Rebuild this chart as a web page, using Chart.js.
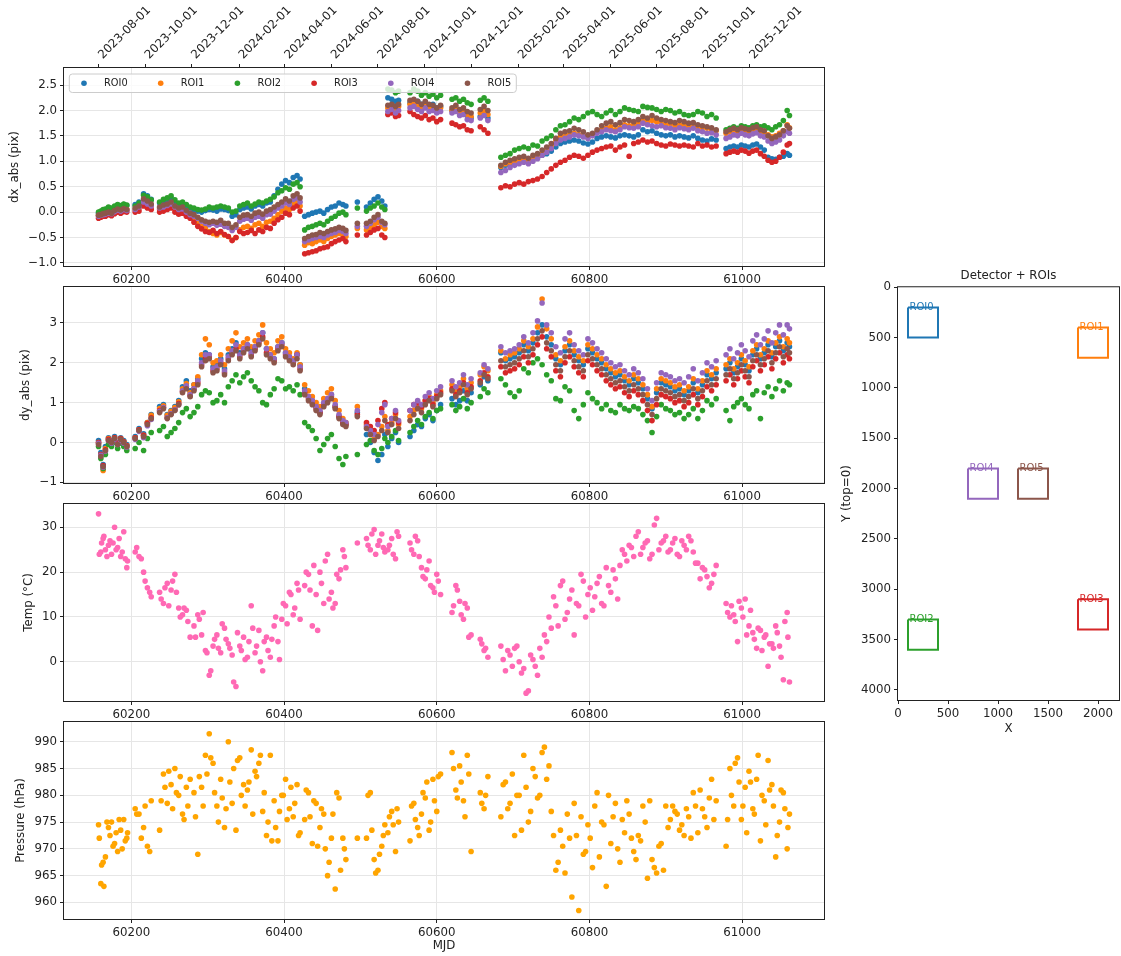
<!DOCTYPE html>
<html>
<head>
<meta charset="utf-8">
<script src="https://cdn.jsdelivr.net/npm/chart.js@4.4.1/dist/chart.umd.min.js"></script>
<style>
  html, body { margin: 0; padding: 0; background: #fff; }
  #wrap { position: relative; width: 1121px; height: 956px; overflow: hidden; }
  canvas { position: absolute; }
</style>
</head>
<body>
<div id="wrap">
  <canvas id="dxChart"></canvas>
  <canvas id="dyChart"></canvas>
  <canvas id="tempChart"></canvas>
  <canvas id="presChart"></canvas>
  <canvas id="detChart"></canvas>
</div>
<script>
// ---- data ----
const roiNames = ['ROI0', 'ROI1', 'ROI2', 'ROI3', 'ROI4', 'ROI5'];
const roiColors = ['#1f77b4', '#ff7f0e', '#2ca02c', '#d62728', '#9467bd', '#8c564b'];

const mjd = [
  60157, 60160, 60163, 60166, 60170, 60174, 60178, 60182, 60186, 60190, 60194,
  60205, 60210, 60216, 60221, 60226,
  60237, 60242, 60247, 60252, 60257, 60262, 60267, 60272, 60277,
  60282, 60287, 60292, 60297, 60302, 60307, 60312, 60317, 60322, 60327, 60332, 60337, 60342, 60347, 60352,
  60357, 60362, 60367, 60372, 60377, 60382, 60387, 60392, 60397, 60402, 60407, 60412, 60417, 60421,
  60427, 60432, 60437, 60442, 60447, 60452, 60457, 60462, 60467, 60472, 60477, 60481,
  60496,
  60508, 60513, 60518, 60523, 60528, 60532,
  60536, 60541, 60546, 60550, 60565, 60570, 60575, 60580, 60585, 60590, 60595, 60600, 60605,
  60620, 60625, 60630, 60635, 60640, 60645, 60657, 60662, 60667,
  60684, 60690, 60696, 60702, 60708, 60714, 60720, 60726, 60732, 60738, 60744, 60750, 60756, 60762, 60768, 60774,
  60780, 60786, 60792, 60798, 60804, 60810, 60816, 60822, 60828, 60834, 60840, 60846, 60852, 60858, 60864, 60870,
  60876, 60882, 60888, 60894, 60900, 60906, 60912, 60918, 60924, 60930, 60936, 60942, 60948, 60954, 60960, 60966,
  60979, 60984, 60989, 60994, 60999, 61004, 61009, 61014, 61019, 61024, 61029, 61034, 61039, 61044, 61049, 61054, 61059, 61062
];

const dx0 = [
  -0.02, 0.00, 0.03, 0.05, 0.08, 0.06, 0.10, 0.14, 0.12, 0.15, 0.13,
  0.15, 0.20, 0.36, 0.32, 0.25,
  0.18, 0.22, 0.25, 0.28, 0.20, 0.16, 0.18, 0.12, 0.08,
  0.03, 0.02, 0.00, 0.03, 0.05, 0.04, 0.02, 0.06, 0.05, 0.03, -0.08, -0.05, 0.05, 0.08, 0.10,
  0.06, 0.12, 0.15, 0.12, 0.18, 0.20, 0.32, 0.45, 0.55, 0.62, 0.58, 0.68, 0.72, 0.65,
  -0.08, -0.05, -0.02, 0.00, 0.02, -0.02, 0.05, 0.10, 0.12, 0.18, 0.15, 0.12,
  0.20,
  0.10, 0.18, 0.25, 0.30, 0.22, 0.12,
  2.25, 2.22, 2.18, 2.20, 2.15, 2.20, 2.18, 2.12, 2.15, 2.10, 2.12, 2.05, 2.08,
  2.00, 2.05, 1.98, 2.02, 1.90, 1.85, 1.88, 1.92, 1.85,
  0.88, 0.92, 0.95, 0.98, 1.00, 1.02, 1.00, 1.05, 1.08, 1.12, 1.15, 1.20, 1.28, 1.35, 1.38, 1.40,
  1.42, 1.40, 1.36, 1.34, 1.38, 1.45, 1.48, 1.50, 1.48, 1.46, 1.50, 1.52, 1.50, 1.48, 1.52, 1.62,
  1.58, 1.60, 1.55, 1.52, 1.50, 1.52, 1.48, 1.50, 1.48, 1.46, 1.50, 1.45, 1.42, 1.40, 1.44, 1.42,
  1.25, 1.28, 1.30, 1.28, 1.32, 1.30, 1.28, 1.32, 1.34, 1.28, 1.22, 1.08, 1.05, 1.04, 1.08, 1.10, 1.15, 1.12
];
const dx1 = [
  -0.06, -0.05, -0.04, -0.02, 0.00, -0.02, 0.02, 0.05, 0.04, 0.06, 0.05,
  0.05, 0.08, 0.22, 0.18, 0.12,
  0.05, 0.08, 0.10, 0.14, 0.06, 0.02, 0.04, -0.04, -0.10,
  -0.15, -0.22, -0.28, -0.32, -0.38, -0.42, -0.45, -0.40, -0.45, -0.48, -0.55, -0.50, -0.35, -0.30, -0.28,
  -0.32, -0.25, -0.22, -0.28, -0.20, -0.18, -0.12, -0.05, 0.02, 0.08, 0.05, 0.15, 0.20, 0.12,
  -0.65, -0.60, -0.62, -0.58, -0.55, -0.58, -0.52, -0.48, -0.45, -0.42, -0.45, -0.48,
  -0.32,
  -0.35, -0.30, -0.25, -0.20, -0.28, -0.32,
  2.05, 2.10, 2.02, 2.08, 2.12, 2.15, 2.10, 2.05, 2.12, 2.08, 2.02, 1.98, 2.05,
  2.00, 2.05, 1.95, 2.00, 1.92, 1.88, 1.95, 2.00, 1.92,
  0.90, 0.95, 0.98, 1.00, 1.02, 1.05, 1.02, 1.08, 1.10, 1.15, 1.22, 1.30, 1.40, 1.48, 1.50, 1.52,
  1.55, 1.52, 1.50, 1.48, 1.52, 1.58, 1.62, 1.65, 1.68, 1.62, 1.66, 1.72, 1.70, 1.72, 1.75, 1.80,
  1.78, 1.80, 1.78, 1.75, 1.72, 1.74, 1.70, 1.72, 1.70, 1.68, 1.70, 1.68, 1.66, 1.65, 1.62, 1.60,
  1.55, 1.58, 1.60, 1.58, 1.62, 1.60, 1.58, 1.62, 1.64, 1.58, 1.56, 1.52, 1.48, 1.50, 1.55, 1.60, 1.72, 1.66
];
const dx2 = [
  0.00, 0.02, 0.05, 0.06, 0.10, 0.08, 0.12, 0.15, 0.13, 0.16, 0.14,
  0.12, 0.18, 0.33, 0.30, 0.24,
  0.20, 0.25, 0.28, 0.32, 0.24, 0.18, 0.20, 0.15, 0.10,
  0.08, 0.05, 0.04, 0.06, 0.10, 0.08, 0.10, 0.12, 0.10, 0.08, 0.00, 0.02, 0.12, 0.15, 0.18,
  0.12, 0.16, 0.20, 0.18, 0.22, 0.25, 0.30, 0.38, 0.42, 0.48, 0.45, 0.55, 0.58, 0.50,
  -0.35, -0.30, -0.28, -0.25, -0.22, -0.25, -0.18, -0.12, -0.08, -0.02, 0.00, -0.05,
  0.08,
  0.02, 0.08, 0.12, 0.18, 0.10, 0.05,
  2.42, 2.40, 2.35, 2.38, 2.35, 2.42, 2.38, 2.30, 2.35, 2.28, 2.32, 2.25, 2.30,
  2.22, 2.25, 2.18, 2.22, 2.15, 2.12, 2.20, 2.25, 2.18,
  1.08, 1.12, 1.15, 1.22, 1.25, 1.28, 1.25, 1.32, 1.30, 1.40, 1.45, 1.50, 1.62, 1.70, 1.72, 1.78,
  1.85, 1.82, 1.88, 1.95, 1.98, 1.92, 1.88, 1.95, 2.00, 1.92, 1.98, 2.05, 2.02, 2.00, 1.98, 2.08,
  2.06, 2.05, 2.02, 1.98, 2.02, 2.00, 1.95, 1.98, 1.92, 1.90, 1.92, 1.98, 1.95, 1.88, 1.92, 1.85,
  1.62, 1.65, 1.68, 1.65, 1.70, 1.68, 1.66, 1.70, 1.72, 1.68, 1.70, 1.66, 1.62, 1.68, 1.72, 1.80, 2.00, 1.90
];
const dx3 = [
  -0.12, -0.10, -0.08, -0.08, -0.05, -0.07, -0.03, 0.00, -0.02, 0.01, 0.00,
  0.00, 0.02, 0.12, 0.08, 0.05,
  0.00, 0.02, 0.05, 0.08, 0.00, -0.04, -0.02, -0.08, -0.12,
  -0.20, -0.28, -0.33, -0.38, -0.40, -0.36, -0.42, -0.38, -0.44, -0.48, -0.56, -0.50, -0.38, -0.42, -0.40,
  -0.36, -0.42, -0.35, -0.38, -0.30, -0.32, -0.22, -0.15, -0.10, -0.02, -0.05, 0.08, 0.12, 0.02,
  -0.82, -0.80, -0.78, -0.76, -0.72, -0.70, -0.68, -0.62, -0.58, -0.55, -0.52, -0.58,
  -0.45,
  -0.45, -0.40, -0.35, -0.32, -0.45, -0.50,
  1.92, 1.95, 1.88, 1.90, 1.98, 1.92, 1.88, 1.85, 1.90, 1.82, 1.85, 1.78, 1.82,
  1.75, 1.72, 1.68, 1.70, 1.62, 1.60, 1.68, 1.62, 1.55,
  0.48, 0.52, 0.50, 0.55, 0.58, 0.55, 0.60, 0.62, 0.65, 0.70, 0.78, 0.85, 0.92, 0.98, 1.02, 1.08,
  1.12, 1.10, 1.06, 1.12, 1.18, 1.22, 1.25, 1.28, 1.30, 1.22, 1.28, 1.32, 1.10, 1.35, 1.38, 1.42,
  1.38, 1.40, 1.35, 1.32, 1.30, 1.34, 1.32, 1.30, 1.32, 1.30, 1.28, 1.35, 1.30, 1.32, 1.28, 1.30,
  1.15, 1.18, 1.20, 1.18, 1.22, 1.20, 1.16, 1.20, 1.22, 1.15, 1.10, 1.02, 0.98, 1.00, 1.08, 1.18, 1.32, 1.35
];
const dx4 = [
  -0.08, -0.06, -0.05, -0.04, -0.02, -0.03, 0.01, 0.04, 0.02, 0.05, 0.03,
  0.05, 0.10, 0.20, 0.16, 0.12,
  0.08, 0.10, 0.13, 0.16, 0.10, 0.05, 0.06, 0.00, -0.05,
  -0.08, -0.12, -0.18, -0.22, -0.25, -0.22, -0.26, -0.24, -0.28, -0.30, -0.36, -0.30, -0.18, -0.14, -0.12,
  -0.16, -0.10, -0.08, -0.12, -0.05, -0.04, 0.02, 0.08, 0.12, 0.18, 0.15, 0.25, 0.28, 0.20,
  -0.58, -0.55, -0.52, -0.50, -0.48, -0.50, -0.45, -0.42, -0.40, -0.36, -0.38, -0.42,
  -0.28,
  -0.28, -0.22, -0.15, -0.10, -0.20, -0.25,
  1.98, 2.02, 1.95, 2.00, 2.05, 2.08, 2.02, 1.98, 2.05, 1.98, 2.00, 1.95, 1.98,
  1.95, 1.98, 1.90, 1.92, 1.82, 1.80, 1.85, 1.90, 1.80,
  0.78, 0.82, 0.88, 0.92, 0.95, 0.98, 0.95, 1.00, 1.05, 1.12, 1.18, 1.25, 1.35, 1.42, 1.45, 1.48,
  1.52, 1.50, 1.48, 1.45, 1.50, 1.55, 1.58, 1.62, 1.60, 1.58, 1.62, 1.68, 1.66, 1.65, 1.68, 1.75,
  1.72, 1.70, 1.68, 1.70, 1.66, 1.65, 1.62, 1.66, 1.64, 1.62, 1.65, 1.60, 1.58, 1.55, 1.56, 1.52,
  1.45, 1.48, 1.52, 1.50, 1.55, 1.52, 1.50, 1.54, 1.56, 1.50, 1.48, 1.40, 1.35, 1.38, 1.42, 1.50, 1.58, 1.55
];
const dx5 = [
  -0.06, -0.05, -0.03, -0.02, 0.00, -0.02, 0.03, 0.06, 0.04, 0.07, 0.05,
  0.08, 0.12, 0.26, 0.22, 0.16,
  0.10, 0.14, 0.16, 0.20, 0.12, 0.08, 0.10, 0.03, -0.02,
  -0.05, -0.10, -0.15, -0.18, -0.20, -0.18, -0.20, -0.16, -0.22, -0.22, -0.30, -0.25, -0.10, -0.06, -0.05,
  -0.08, -0.02, 0.00, -0.04, 0.02, 0.05, 0.10, 0.15, 0.20, 0.26, 0.22, 0.32, 0.36, 0.28,
  -0.52, -0.48, -0.45, -0.44, -0.40, -0.42, -0.38, -0.35, -0.33, -0.30, -0.32, -0.36,
  -0.22,
  -0.22, -0.18, -0.10, -0.05, -0.18, -0.22,
  2.10, 2.12, 2.08, 2.12, 2.20, 2.22, 2.18, 2.12, 2.18, 2.12, 2.10, 2.05, 2.10,
  2.05, 2.10, 2.02, 2.05, 1.98, 1.95, 2.02, 2.08, 2.00,
  0.92, 0.98, 1.02, 1.05, 1.08, 1.10, 1.06, 1.12, 1.15, 1.22, 1.28, 1.35, 1.45, 1.55, 1.58, 1.60,
  1.65, 1.62, 1.58, 1.52, 1.55, 1.62, 1.70, 1.75, 1.78, 1.72, 1.76, 1.82, 1.80, 1.78, 1.82, 1.88,
  1.85, 1.90, 1.85, 1.82, 1.80, 1.78, 1.76, 1.80, 1.78, 1.75, 1.76, 1.72, 1.70, 1.68, 1.66, 1.62,
  1.58, 1.62, 1.65, 1.62, 1.66, 1.64, 1.62, 1.66, 1.68, 1.62, 1.60, 1.50, 1.45, 1.48, 1.52, 1.60, 1.70, 1.65
];

const dy0 = [
  0.05, -0.25, -0.55, -0.10, 0.12, 0.05, 0.15, 0.00, 0.12, 0.05, -0.05,
  0.15, 0.35, 0.22, 0.50, 0.70,
  0.90, 0.95, 0.70, 0.80, 0.90, 1.05, 1.40, 1.55, 1.30,
  1.45, 1.60, 2.10, 2.25, 2.20, 1.90, 1.95, 2.10, 1.85, 2.20, 2.35, 2.50, 2.25, 2.35, 2.45,
  2.30, 2.40, 2.55, 2.75, 2.35, 2.20, 2.10, 2.40, 2.50, 2.25, 2.15, 2.05, 2.20, 1.95,
  1.35, 1.15, 1.05, 0.90, 0.75, 0.95, 1.05, 1.20, 0.90, 0.65, 0.50, 0.45,
  0.75,
  0.20, 0.00, -0.25, -0.45, -0.30, 0.20,
  -0.10, 0.10, 0.25, 0.00, 0.15, 0.30, 0.45, 0.40, 0.60, 0.70, 0.55, 0.80, 0.95,
  1.10, 0.95, 1.05, 1.30, 1.05, 1.25, 1.45, 1.65, 1.55,
  2.25, 2.05, 2.10, 2.15, 2.25, 2.45, 2.30, 2.50, 2.75, 2.95, 2.65, 2.45, 2.10, 1.95, 2.30, 2.45,
  2.20, 2.05, 1.95, 2.35, 2.25, 2.10, 2.00, 1.85, 1.75, 1.65, 1.70, 1.55, 1.45, 1.60, 1.50, 1.35,
  1.10, 0.85, 1.25, 1.50, 1.45, 1.40, 1.30, 1.35, 1.20, 1.30, 1.50, 1.25, 1.45, 1.70, 1.60, 1.75,
  1.85, 2.00, 1.75, 1.90, 2.10, 1.95, 1.80, 2.20, 2.35, 2.10, 2.25, 2.45, 2.15, 2.40, 2.55, 2.30, 2.50, 2.40
];
const dy1 = [
  0.00, -0.30, -0.70, -0.15, 0.10, 0.02, 0.12, -0.02, 0.10, 0.02, -0.08,
  0.12, 0.32, 0.18, 0.50, 0.68,
  0.85, 0.92, 0.68, 0.78, 0.88, 1.02, 1.35, 1.48, 1.25,
  1.45, 1.65, 2.20, 2.60, 2.45, 2.00, 2.05, 2.20, 1.95, 2.35, 2.55, 2.75, 2.40, 2.50, 2.60,
  2.40, 2.55, 2.70, 2.95, 2.50, 2.35, 2.25, 2.55, 2.65, 2.35, 2.25, 2.10, 2.25, 1.95,
  1.45, 1.30, 1.15, 1.00, 0.90, 1.10, 1.25, 1.35, 1.05, 0.80, 0.60, 0.50,
  0.90,
  0.45, 0.30, 0.10, 0.20, 0.40, 0.65,
  0.30, 0.50, 0.70, 0.45, 0.65, 0.80, 0.95, 0.85, 1.05, 1.15, 1.00, 1.20, 1.30,
  1.45, 1.30, 1.40, 1.60, 1.35, 1.50, 1.70, 1.90, 1.80,
  2.30, 2.10, 2.20, 2.25, 2.35, 2.55, 2.40, 2.60, 2.90, 3.60, 2.85, 2.60, 2.20, 2.05, 2.40, 2.55,
  2.30, 2.15, 2.05, 2.45, 2.35, 2.20, 2.10, 1.95, 1.85, 1.75, 1.80, 1.65, 1.55, 1.70, 1.60, 1.45,
  1.20, 0.90, 1.35, 1.60, 1.55, 1.50, 1.40, 1.45, 1.30, 1.40, 1.60, 1.35, 1.55, 1.80, 1.70, 1.85,
  1.95, 2.10, 1.85, 2.00, 2.20, 2.05, 1.90, 2.30, 2.45, 2.20, 2.35, 2.55, 2.25, 2.50, 2.65, 2.40, 2.60, 2.50
];
const dy2 = [
  -0.10, -0.40, -0.65, -0.30, -0.05, -0.10, 0.00, -0.15, -0.02, -0.10, -0.20,
  -0.15, 0.00, -0.20, 0.10, 0.25,
  0.30, 0.40, 0.15, 0.25, 0.35, 0.50, 0.75, 0.85, 0.65,
  0.75, 0.90, 1.20, 1.30, 1.25, 1.00, 1.05, 1.20, 1.00, 1.40, 1.55, 1.70, 1.50, 1.65, 1.75,
  1.55, 1.40, 1.30, 1.00, 0.95, 1.20, 1.35, 1.60, 1.55, 1.35, 1.40, 1.30, 1.45, 1.20,
  0.50, 0.40, 0.30, 0.10, -0.20, -0.05, 0.10, 0.20, -0.10, -0.40, -0.55, -0.35,
  -0.30,
  -0.05, 0.05, -0.20, -0.30, -0.15, 0.10,
  0.00, 0.15, 0.30, 0.05, 0.25, 0.40, 0.55, 0.45, 0.65, 0.75, 0.60, 0.80, 0.85,
  0.95, 0.80, 0.90, 1.10, 0.85, 1.00, 1.15, 1.35, 1.25,
  1.60, 1.45, 1.25, 1.15, 1.30, 1.85, 1.75, 2.00, 2.10, 1.95, 1.70, 1.55, 1.10, 1.05, 1.40, 1.30,
  0.80, 0.60, 0.95, 1.25, 1.10, 1.00, 0.85, 0.95, 0.80, 0.75, 0.95, 0.85, 0.80, 0.90, 0.85, 0.70,
  0.55, 0.25, 0.65, 0.95, 0.85, 0.80, 0.70, 0.75, 0.60, 0.70, 0.85, 0.60, 0.80, 1.05, 0.95, 1.10,
  0.80, 0.55, 0.90, 1.00, 1.10, 0.95, 0.85, 1.20, 1.30, 0.60, 1.25, 1.40, 1.15, 1.35, 1.55, 1.30, 1.50, 1.45
];
const dy3 = [
  0.00, -0.30, -0.58, -0.18, 0.08, 0.02, 0.12, -0.02, 0.10, 0.02, -0.08,
  0.12, 0.32, 0.18, 0.48, 0.62,
  0.80, 0.88, 0.62, 0.72, 0.82, 0.98, 1.28, 1.40, 1.18,
  1.35, 1.50, 1.95, 2.10, 2.15, 1.80, 1.85, 2.00, 1.75, 2.10, 2.25, 2.35, 2.15, 2.30, 2.40,
  2.20, 2.35, 2.50, 2.65, 2.25, 2.15, 2.05, 2.35, 2.45, 2.20, 2.10, 2.00, 2.20, 1.85,
  1.25, 1.10, 1.00, 0.85, 0.75, 0.95, 1.05, 1.15, 0.90, 0.65, 0.50, 0.45,
  0.70,
  0.50, 0.40, 0.30, 0.55, 0.85, 1.00,
  0.45, 0.60, 0.75, 0.50, 0.80, 0.95, 1.00, 0.90, 1.05, 1.10, 0.95, 1.15, 1.25,
  1.35, 1.20, 1.30, 1.50, 1.25, 1.40, 1.55, 1.75, 1.65,
  1.90, 1.75, 1.80, 1.85, 1.95, 2.15, 2.00, 2.20, 2.45, 2.65, 2.35, 2.15, 1.80, 1.65, 2.00, 2.15,
  1.90, 1.75, 1.65, 2.05, 1.95, 1.80, 1.70, 1.55, 1.45, 1.35, 1.40, 1.25, 1.15, 1.30, 1.20, 1.05,
  0.80, 0.55, 0.95, 1.20, 1.15, 1.10, 1.00, 1.05, 0.90, 1.00, 1.20, 0.95, 1.15, 1.40, 1.30, 1.45,
  1.55, 1.70, 1.45, 1.60, 1.80, 1.65, 1.50, 1.90, 2.05, 1.80, 1.95, 2.15, 1.85, 2.10, 2.25, 2.00, 2.20, 2.10
];
const dy4 = [
  -0.02, -0.32, -0.62, -0.22, 0.05, -0.02, 0.08, -0.05, 0.05, -0.02, -0.12,
  0.08, 0.28, 0.12, 0.42, 0.58,
  0.78, 0.88, 0.62, 0.72, 0.82, 0.95, 1.30, 1.42, 1.20,
  1.35, 1.55, 2.00, 2.20, 2.20, 1.85, 1.90, 2.05, 1.80, 2.15, 2.30, 2.45, 2.20, 2.35, 2.45,
  2.25, 2.40, 2.55, 2.75, 2.35, 2.20, 2.10, 2.40, 2.50, 2.25, 2.15, 2.05, 2.20, 1.90,
  1.30, 1.15, 1.05, 0.90, 0.80, 1.00, 1.10, 1.20, 0.95, 0.70, 0.55, 0.50,
  0.80,
  0.40, 0.30, 0.20, 0.45, 0.75, 0.95,
  0.40, 0.60, 0.80, 0.55, 0.80, 0.95, 1.05, 0.95, 1.15, 1.25, 1.10, 1.30, 1.40,
  1.55, 1.40, 1.50, 1.70, 1.45, 1.60, 1.75, 1.95, 1.85,
  2.40, 2.25, 2.30, 2.35, 2.45, 2.65, 2.50, 2.75, 3.05, 3.50, 2.95, 2.75, 2.40, 2.25, 2.60, 2.75,
  2.45, 2.30, 2.20, 2.60, 2.50, 2.35, 2.25, 2.10, 2.00, 1.90, 1.95, 1.80, 1.70, 1.85, 1.75, 1.60,
  1.35, 1.05, 1.50, 1.75, 1.70, 1.65, 1.55, 1.60, 1.50, 1.65, 1.85, 1.55, 1.75, 2.00, 1.90, 2.05,
  2.20, 2.35, 2.10, 2.25, 2.45, 2.30, 2.15, 2.55, 2.70, 2.45, 2.60, 2.80, 2.50, 2.75, 2.95, 2.70, 2.95, 2.85
];
const dy5 = [
  -0.05, -0.35, -0.60, -0.20, 0.05, 0.00, 0.10, -0.05, 0.08, 0.00, -0.10,
  0.10, 0.30, 0.15, 0.45, 0.60,
  0.75, 0.85, 0.60, 0.70, 0.80, 0.95, 1.25, 1.35, 1.15,
  1.30, 1.45, 1.90, 2.05, 2.10, 1.75, 1.80, 1.95, 1.70, 2.05, 2.20, 2.30, 2.10, 2.25, 2.35,
  2.15, 2.30, 2.45, 2.60, 2.20, 2.10, 2.00, 2.30, 2.40, 2.15, 2.05, 1.95, 2.10, 1.80,
  1.20, 1.05, 0.95, 0.80, 0.70, 0.90, 1.00, 1.10, 0.85, 0.60, 0.45, 0.40,
  0.65,
  0.35, 0.20, 0.05, 0.15, 0.30, 0.55,
  0.25, 0.45, 0.60, 0.35, 0.55, 0.70, 0.85, 0.75, 0.95, 1.05, 0.90, 1.10, 1.20,
  1.30, 1.15, 1.25, 1.45, 1.20, 1.35, 1.50, 1.70, 1.60,
  2.05, 1.90, 1.95, 2.00, 2.10, 2.30, 2.15, 2.35, 2.60, 2.80, 2.50, 2.30, 1.95, 1.80, 2.15, 2.30,
  2.05, 1.90, 1.80, 2.20, 2.10, 1.95, 1.85, 1.70, 1.60, 1.50, 1.55, 1.40, 1.30, 1.45, 1.35, 1.20,
  0.95, 0.70, 1.10, 1.35, 1.30, 1.25, 1.15, 1.20, 1.05, 1.15, 1.35, 1.10, 1.30, 1.55, 1.45, 1.60,
  1.70, 1.85, 1.60, 1.75, 1.95, 1.80, 1.65, 2.05, 2.20, 1.95, 2.10, 2.30, 2.00, 2.25, 2.40, 2.15, 2.35, 2.25
];

const temp = [
  33.0, 24.5, 27.5, 25.0, 26.0, 24.0, 30.0, 25.5, 23.5, 29.0, 21.0,
  24.5, 23.5, 20.0, 16.5, 14.5,
  15.5, 13.0, 17.5, 16.0, 19.5, 12.0, 10.5, 11.5, 5.5,
  8.0, 10.5, 6.0, 2.5, -3.0, 3.5, 6.0, 2.0, 7.5, 4.0, 1.5, -5.5, 3.5, 5.5, 1.0,
  12.5, 2.0, 7.0, -2.0, 5.5, 1.0, 8.0, 4.5, 9.5, 12.5, 15.5, 10.5, 17.5, 9.5,
  17.0, 19.5, 8.0, 15.0, 20.0, 13.0, 24.0, 15.5, 13.0, 18.5, 25.0, 21.0,
  26.5,
  27.5, 25.0, 29.5, 26.0, 28.5, 24.5,
  25.0, 27.5, 23.0, 28.0, 26.5, 24.0, 27.0, 21.0, 18.5, 22.5, 16.5, 19.5, 15.0,
  11.0, 17.0, 13.5, 9.5, 12.0, 6.0, 5.0, 2.5, 1.0,
  3.5, -2.0, 1.5, 3.0, 0.0, -1.5, -6.5, 0.5, -3.0, 1.0, 4.5, 7.5, 12.5, 17.0, 9.5, 14.0,
  6.0, 12.5, 18.0, 15.0, 11.5, 17.5, 13.0, 21.0, 15.5, 18.5, 21.5, 24.0, 26.0, 23.5, 29.0, 25.5,
  27.0, 24.0, 32.0, 26.5, 28.0, 25.0, 27.5, 23.5, 26.0, 28.0, 24.5, 22.0, 21.0, 19.0, 17.5, 21.5,
  13.0, 10.0, 10.5, 4.5, 12.0, 14.0, 8.0, 6.5, 3.0, 7.0, 5.5, -1.0, 4.0, 8.0, 3.5, -4.0, 11.0, -4.5
];

const pressure = [
  974.5, 963.5, 967.5, 968.5, 974.0, 975.0, 971.0, 969.5, 973.5, 975.5, 972.0,
  977.5, 976.5, 974.0, 970.5, 979.0,
  973.5, 984.0, 978.5, 982.0, 985.0, 980.0, 976.5, 981.5, 983.0,
  980.5, 969.0, 981.5, 987.5, 991.5, 986.0, 978.0, 983.0, 974.0, 990.0, 978.5, 973.5, 987.0, 982.0, 981.0,
  988.5, 984.5, 986.0, 977.0, 972.5, 987.5, 979.0, 971.5, 980.0, 983.0, 977.5, 976.0, 982.0, 973.0,
  975.5, 980.5, 971.0, 978.5, 974.0, 976.5, 965.0, 972.0, 962.5, 979.5, 972.0, 968.0,
  972.0,
  972.0, 980.5, 968.0, 966.0, 970.5, 974.5,
  973.0, 977.0, 969.5, 975.0, 971.5, 978.5, 974.0, 976.5, 979.5, 973.5, 983.0, 977.0, 984.0,
  988.0, 981.0, 985.5, 979.0, 987.5, 969.5, 980.5, 977.5, 983.5,
  976.0, 982.5, 978.5, 972.5, 980.0, 987.5, 975.0, 985.0, 979.5, 988.0, 983.0, 977.0, 966.0, 973.5, 965.5, 972.0,
  978.5, 958.5, 969.0, 974.5, 966.5, 980.5, 975.0, 963.0, 971.0, 978.5, 967.5, 973.0, 976.5, 969.5, 972.5, 978.0,
  964.5, 968.0, 965.5, 971.0, 978.0, 975.5, 977.0, 973.5, 972.5, 976.0, 980.5, 973.0, 977.5, 974.0, 983.0, 979.0,
  970.5, 985.0, 978.0, 987.0, 975.5, 981.5, 984.5, 977.5, 983.0, 971.5, 979.0, 986.5, 982.0, 968.5, 975.0, 980.5, 970.0, 976.5
];

// second daily reading of the weather station
const mjdB = [
  60158, 60161, 60164, 60168, 60172, 60176, 60180, 60184, 60188, 60192, 60195,
  60207, 60213, 60218, 60224,
  60239, 60244, 60249, 60254, 60259, 60264, 60269, 60274,
  60284, 60289, 60294, 60299, 60304, 60309, 60314, 60319, 60324, 60329, 60334, 60339, 60344, 60349,
  60354, 60359, 60364, 60369, 60374, 60379, 60384, 60389, 60394, 60399, 60404, 60409, 60414, 60419,
  60429, 60434, 60439, 60444, 60449, 60454, 60459, 60464, 60469, 60474, 60479,
  60510, 60515, 60520, 60525, 60530,
  60538, 60543, 60548, 60567, 60572, 60577, 60582, 60587, 60592, 60597, 60602,
  60622, 60627, 60632, 60637, 60642, 60659, 60664,
  60687, 60693, 60699, 60705, 60711, 60717, 60723, 60729, 60735, 60741, 60747, 60753, 60759, 60765, 60771, 60777,
  60783, 60789, 60795, 60801, 60807, 60813, 60819, 60825, 60831, 60837, 60843, 60849, 60855, 60861, 60867, 60873,
  60879, 60885, 60891, 60897, 60903, 60909, 60915, 60921, 60927, 60933, 60939, 60945, 60951, 60957, 60963,
  60981, 60986, 60991, 60996, 61001, 61006, 61011, 61016, 61021, 61026, 61031, 61036, 61041, 61046, 61051, 61056, 61060
];
const tempB = [
  24.0, 26.5, 28.0, 23.5, 27.0, 26.5, 25.0, 27.5, 24.5, 23.0, 22.5,
  25.5, 23.0, 18.0, 15.5,
  14.0, 16.5, 12.5, 18.0, 15.5, 10.0, 12.0, 9.0,
  5.5, 9.5, 11.0, 2.0, -2.0, 5.0, 3.0, 8.5, 5.0, 3.0, -4.5, 6.5, 2.5, 0.5,
  4.5, 7.5, 3.5, 0.0, 4.5, 2.5, 5.0, 10.0, 0.5, 13.0, 8.5, 15.0, 12.0, 16.0,
  20.0, 16.0, 21.5, 7.0, 17.5, 22.5, 14.0, 12.0, 19.5, 20.5, 23.5,
  26.0, 28.5, 24.0, 27.0, 25.5,
  26.0, 24.0, 29.0, 25.0, 28.0, 23.5, 19.0, 20.5, 17.0, 15.5, 18.0,
  12.5, 16.0, 10.5, 13.0, 5.5, 4.0, 3.0,
  0.5, 2.5, -1.0, 3.5, -2.5, -7.0, 1.5, -1.0, 3.0, 6.0, 10.0, 14.5, 8.0, 18.0, 11.0, 16.0,
  13.0, 19.5, 10.0, 16.5, 14.5, 19.0, 12.5, 17.0, 20.5, 14.0, 25.0, 22.5, 25.5, 28.0, 24.0, 26.5,
  23.0, 30.5, 25.0, 27.0, 24.5, 26.5, 24.0, 27.0, 25.0, 27.0, 22.0, 18.5, 20.5, 16.5, 19.5,
  11.0, 12.5, 9.0, 13.5, 10.0, 6.0, 11.5, 5.0, 7.5, 2.5, 6.0, 4.0, 3.0, 6.5, 1.0, 9.0, 5.5
];
const pressureB = [
  972.0, 967.0, 963.0, 975.0, 972.5, 970.5, 973.0, 975.5, 970.0, 971.5, 973.0,
  976.5, 972.0, 978.0, 969.5,
  979.0, 981.5, 984.5, 977.5, 980.5, 983.5, 975.5, 978.0,
  976.0, 983.5, 978.0, 984.0, 987.0, 980.5, 975.0, 979.5, 977.5, 982.5, 985.0, 986.5, 980.0, 978.0,
  982.5, 976.5, 983.5, 987.5, 980.5, 975.0, 971.5, 974.0, 977.0, 980.0, 975.5, 981.5, 978.5, 972.5,
  981.0, 976.0, 979.0, 970.5, 977.5, 970.0, 967.5, 976.5, 980.5, 966.0, 970.0,
  980.0, 973.5, 965.5, 969.0, 972.5,
  976.0, 974.5, 977.5, 978.0, 975.5, 972.5, 980.5, 982.5, 975.0, 979.0, 983.5,
  985.0, 979.5, 982.5, 976.0, 984.0, 978.5, 980.0,
  982.0, 977.5, 984.0, 980.0, 973.5, 981.5, 977.0, 983.5, 980.0, 989.0, 985.5, 972.5, 967.5, 970.5, 976.5, 961.0,
  972.5, 976.0, 969.5, 972.0, 978.0, 968.5, 974.5, 980.0, 976.0, 970.0, 975.5, 979.0, 972.0, 968.0, 971.5, 975.0,
  979.0, 966.5, 970.5, 966.0, 974.0, 978.0, 976.5, 974.5, 977.5, 972.0, 978.0, 981.0, 976.0, 979.5, 975.5,
  975.5, 980.0, 986.0, 982.5, 978.0, 973.0, 982.5, 976.5, 987.5, 980.0, 974.5, 981.0, 978.0, 972.5, 981.0, 977.5, 974.0
];

// detector ROI boxes (top-left corner, size)
const roiX0 = [100, 1800, 100, 1800, 700, 1200];
const roiY0 = [200, 400, 3300, 3100, 1800, 1800];
const roiSize = 300;

// axes
const mjdMin = 60111.75, mjdMax = 61107.25;
const mjdTicks = [60200, 60400, 60600, 60800, 61000];
const dateTicks = ['2023-08-01', '2023-10-01', '2023-12-01', '2024-02-01', '2024-04-01', '2024-06-01',
  '2024-08-01', '2024-10-01', '2024-12-01', '2025-02-01', '2025-04-01', '2025-06-01',
  '2025-08-01', '2025-10-01', '2025-12-01'];
const dxTicks = [-1.0, -0.5, 0.0, 0.5, 1.0, 1.5, 2.0, 2.5];
const dyTicks = [-1, 0, 1, 2, 3];
const tempTicks = [0, 10, 20, 30];
const presTicks = [960, 965, 970, 975, 980, 985, 990];
const detXTicks = [0, 500, 1000, 1500, 2000];
const detYTicks = [0, 500, 1000, 1500, 2000, 2500, 3000, 3500, 4000];

[dx0, dx1, dx2, dx3, dx4, dx5, dy0, dy1, dy2, dy3, dy4, dy5, temp, pressure].forEach(function (a, i) {
  if (a.length !== mjd.length) throw new Error('series ' + i + ' has ' + a.length + ' values, expected ' + mjd.length);
});
[tempB, pressureB].forEach(function (a, i) {
  if (a.length !== mjdB.length) throw new Error('B series ' + i + ' has ' + a.length + ' values, expected ' + mjdB.length);
});

// ---- helpers ----
const FS = 11.8;
Chart.defaults.font.family = "'DejaVu Sans', sans-serif";
Chart.defaults.font.size = FS;
Chart.defaults.color = '#222';

const GRID = '#e6e6e6';
const INK = '#222';

function dateToMjd(s) {
  const p = s.split('-').map(Number);
  return Date.UTC(p[0], p[1] - 1, p[2]) / 86400000 + 40587;
}
function minus(s) { return String(s).replace('-', '\u2212'); }
function fixTicks(values) {
  return function (scale) { scale.ticks = values.map(function (v) { return { value: v }; }); };
}
function fixSize(w, h) {
  return function (scale) {
    if (w != null) scale.width = w;
    if (h != null) scale.height = h;
    scale.paddingLeft = 0; scale.paddingRight = 0; scale.paddingTop = 0; scale.paddingBottom = 0;
  };
}
function pts(xs, ys) { return xs.map(function (m, k) { return { x: m, y: ys[k] }; }); }

const frame = {
  id: 'frame',
  afterDraw(chart) {
    const a = chart.chartArea, ctx = chart.ctx;
    ctx.save();
    ctx.strokeStyle = INK;
    ctx.lineWidth = 1;
    ctx.strokeRect(a.left - 0.5, a.top - 0.5, a.right - a.left + 1, a.bottom - a.top + 1);
    ctx.restore();
  }
};

const roiLegend = {
  id: 'roiLegend',
  afterDatasetsDraw(chart) {
    const a = chart.chartArea, ctx = chart.ctx;
    const x0 = a.left + 5.3, y0 = a.top + 6, w = 447, h = 18.5, r = 3;
    ctx.save();
    ctx.beginPath();
    ctx.moveTo(x0 + r, y0);
    ctx.arcTo(x0 + w, y0, x0 + w, y0 + h, r);
    ctx.arcTo(x0 + w, y0 + h, x0, y0 + h, r);
    ctx.arcTo(x0, y0 + h, x0, y0, r);
    ctx.arcTo(x0, y0, x0 + w, y0, r);
    ctx.closePath();
    ctx.fillStyle = 'rgba(255,255,255,0.8)';
    ctx.fill();
    ctx.strokeStyle = '#cccccc';
    ctx.lineWidth = 1;
    ctx.stroke();
    ctx.font = "9.8px 'DejaVu Sans', sans-serif";
    ctx.textBaseline = 'middle';
    chart.data.datasets.forEach(function (ds, i) {
      const cx = x0 + 14.7 + i * 76.7, cy = y0 + h / 2;
      ctx.fillStyle = ds.backgroundColor;
      ctx.beginPath();
      ctx.arc(cx, cy, 2.8, 0, Math.PI * 2);
      ctx.fill();
      ctx.fillStyle = INK;
      ctx.fillText(ds.label, cx + 20, cy + 0.5);
    });
    ctx.restore();
  }
};

function scatterSet(label, data, color, order) {
  return {
    label: label, data: data, order: order,
    backgroundColor: color, borderColor: color,
    pointRadius: 2.8, pointHoverRadius: 2.8, pointBorderWidth: 0
  };
}

function xAxis(height, showTitle) {
  return {
    type: 'linear', position: 'bottom', min: mjdMin, max: mjdMax,
    afterBuildTicks: fixTicks(mjdTicks), afterFit: fixSize(null, height),
    grid: { color: GRID, tickColor: INK, tickLength: 4 },
    border: { display: false },
    ticks: { padding: 3, autoSkip: false, maxRotation: 0, color: INK, callback: function (v) { return String(v); } },
    title: { display: showTitle, text: 'MJD', color: INK, font: { size: FS }, padding: { top: 0, bottom: 2.9 } }
  };
}
function yAxis(min, max, ticks, fmt, title, titlePad) {
  return {
    type: 'linear', position: 'left', min: min, max: max,
    afterBuildTicks: fixTicks(ticks), afterFit: fixSize(64, null),
    grid: { color: GRID, tickColor: INK, tickLength: 4 },
    border: { display: false },
    ticks: { padding: 3, color: INK, callback: fmt },
    title: { display: true, text: title, color: INK, font: { size: FS }, padding: { top: titlePad, bottom: 0 } }
  };
}

function panel(id, top, height, padTop, datasets, scales, plugins) {
  const cv = document.getElementById(id);
  cv.width = 830; cv.height = height;
  cv.style.left = '0px'; cv.style.top = top + 'px';
  cv.style.width = '830px'; cv.style.height = height + 'px';
  return new Chart(cv, {
    type: 'scatter',
    data: { datasets: datasets },
    options: {
      responsive: false, animation: false, devicePixelRatio: 1, events: [],
      layout: { padding: { top: padTop, right: 6, left: 0, bottom: 0 } },
      scales: scales,
      plugins: { legend: { display: false }, tooltip: { enabled: false } }
    },
    plugins: [frame].concat(plugins || [])
  });
}

const dxSeries = [dx0, dx1, dx2, dx3, dx4, dx5];
const dySeries = [dy0, dy1, dy2, dy3, dy4, dy5];

// panel 1: dx with date axis on top
panel('dxChart', 0, 290, 0,
  roiNames.map(function (n, i) { return scatterSet(n, pts(mjd, dxSeries[i]), roiColors[i], 5 - i); }),
  {
    x: xAxis(24, false),
    top: {
      type: 'linear', position: 'top', min: mjdMin, max: mjdMax,
      afterBuildTicks: fixTicks(dateTicks.map(dateToMjd)), afterFit: fixSize(null, 68),
      grid: { drawOnChartArea: false, tickColor: INK, tickLength: 4 },
      border: { display: false },
      ticks: {
        padding: 2, autoSkip: false, minRotation: 45, maxRotation: 45, labelOffset: 12, color: INK,
        callback: function (v, i) { return dateTicks[i]; }
      }
    },
    y: yAxis(-1.06, 2.835, dxTicks, function (v) { return minus(v.toFixed(1)); }, 'dx_abs (pix)', 7.9)
  },
  [roiLegend]);

// panel 2: dy
panel('dyChart', 271, 236, 16,
  roiNames.map(function (n, i) { return scatterSet(n, pts(mjd, dySeries[i]), roiColors[i], 5 - i); }),
  {
    x: xAxis(24, false),
    y: yAxis(-1.015, 3.9, dyTicks, function (v) { return minus(v); }, 'dy_abs (pix)', 18.9)
  });

// panel 3: temperature
panel('tempChart', 488, 237, 16,
  [scatterSet('Temp', pts(mjd, temp).concat(pts(mjdB, tempB)), '#ff69b4', 0)],
  {
    x: xAxis(24, false),
    y: yAxis(-8.75, 35.2, tempTicks, function (v) { return minus(v); }, 'Temp (\u00b0C)', 21.9)
  });

// panel 4: pressure
panel('presChart', 706, 250, 16,
  [scatterSet('Pressure', pts(mjd, pressure).concat(pts(mjdB, pressureB)), '#ffa500', 0)],
  {
    x: xAxis(37, true),
    y: yAxis(956.9, 993.7, presTicks, function (v) { return String(v); }, 'Pressure (hPa)', 13.9)
  });

// detector panel
const roiLabels = {
  id: 'roiLabels',
  afterDatasetsDraw(chart) {
    const ctx = chart.ctx, xs = chart.scales.x, ys = chart.scales.y;
    ctx.save();
    ctx.font = "10px 'DejaVu Sans', sans-serif";
    ctx.textBaseline = 'alphabetic';
    roiNames.forEach(function (n, i) {
      ctx.fillStyle = roiColors[i];
      ctx.fillText(n, xs.getPixelForValue(roiX0[i]) + 1.5, ys.getPixelForValue(roiY0[i]) + 2.5);
    });
    ctx.restore();
  }
};
(function () {
  const cv = document.getElementById('detChart');
  cv.width = 286; cv.height = 480;
  cv.style.left = '835px'; cv.style.top = '262px';
  cv.style.width = '286px'; cv.style.height = '480px';
  new Chart(cv, {
    type: 'scatter',
    data: {
      datasets: roiNames.map(function (n, i) {
        const x0 = roiX0[i], y0 = roiY0[i], s = roiSize;
        return {
          label: n, showLine: true, fill: false, tension: 0,
          data: [{ x: x0, y: y0 }, { x: x0 + s, y: y0 }, { x: x0 + s, y: y0 + s }, { x: x0, y: y0 + s }, { x: x0, y: y0 }],
          borderColor: roiColors[i], backgroundColor: roiColors[i], borderWidth: 2, pointRadius: 0
        };
      })
    },
    options: {
      responsive: false, animation: false, devicePixelRatio: 1, events: [],
      layout: { padding: { top: 0, right: 2, left: 0, bottom: 0 } },
      scales: {
        x: {
          type: 'linear', position: 'bottom', min: 0, max: 2210,
          afterBuildTicks: fixTicks(detXTicks), afterFit: fixSize(null, 42),
          grid: { drawOnChartArea: false, tickColor: INK, tickLength: 4 },
          border: { display: false },
          ticks: { padding: 3, autoSkip: false, maxRotation: 0, color: INK, callback: function (v) { return String(v); } },
          title: { display: true, text: 'X', color: INK, font: { size: FS }, padding: { top: 0, bottom: 5.9 } }
        },
        y: {
          type: 'linear', position: 'left', min: 0, max: 4100, reverse: true,
          afterBuildTicks: fixTicks(detYTicks), afterFit: fixSize(63, null),
          grid: { drawOnChartArea: false, tickColor: INK, tickLength: 4 },
          border: { display: false },
          ticks: { padding: 3, autoSkip: false, color: INK, callback: function (v) { return String(v); } },
          title: { display: true, text: 'Y (top=0)', color: INK, font: { size: FS }, padding: { top: 4.6, bottom: 0 } }
        }
      },
      plugins: {
        legend: { display: false }, tooltip: { enabled: false },
        title: {
          display: true, fullSize: false, text: 'Detector + ROIs', color: INK,
          font: { size: FS, weight: 'normal' }, padding: { top: 6.4, bottom: 4.7 }
        }
      }
    },
    plugins: [frame, roiLabels]
  });
})();
</script>
</body>
</html>
